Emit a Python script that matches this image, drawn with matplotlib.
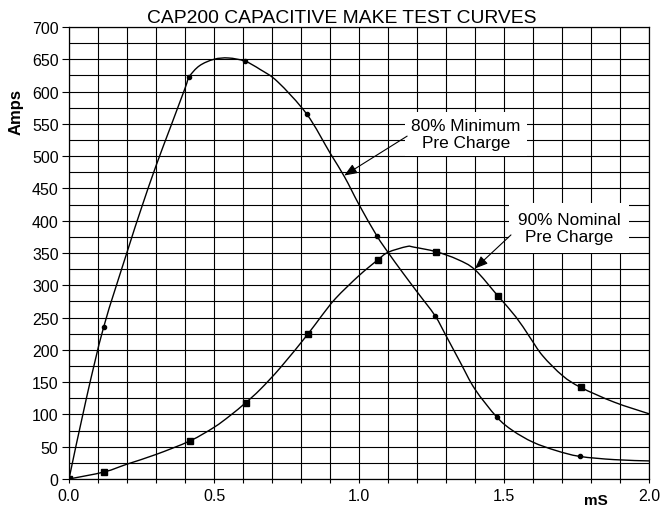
import numpy as np
import matplotlib
matplotlib.use("Agg")
import matplotlib.pyplot as plt
from matplotlib.path import Path
from matplotlib.patches import PathPatch

plt.rcParams['font.family'] = ['Liberation Sans', 'DejaVu Sans']

# 80% Minimum Pre Charge - line readings
x_min = [0, 0.06, 0.12, 0.2, 0.25, 0.3, 0.35, 0.4, 0.415, 0.45, 0.5,
         0.55, 0.607, 0.66, 0.72, 0.82, 0.9, 0.95, 1.0, 1.061, 1.1, 1.15, 1.2,
         1.262, 1.3, 1.35, 1.4, 1.475, 1.53, 1.6, 1.68, 1.761, 1.88, 2.0]
y_min = [0, 125, 236, 351, 420, 485, 545, 605, 623, 640, 650,
         652, 647, 634, 615, 565, 505, 468, 425, 377, 351, 320, 290,
         253, 222, 180, 139, 96, 75, 57, 44, 35, 30, 28]
# markers on 80% curve
mx_min = [0, 0.12, 0.415, 0.607, 0.82, 1.061, 1.262, 1.475, 1.761]
my_min = [0, 236, 623, 647, 565, 377, 253, 96, 35]

# 90% Nominal Pre Charge - line readings
x_nom = [0, 0.122, 0.2, 0.3, 0.417, 0.5, 0.555, 0.609, 0.66, 0.73,
         0.823, 0.87, 0.92, 1.0, 1.064, 1.1, 1.165, 1.19, 1.266, 1.34, 1.4, 1.478,
         1.541, 1.587, 1.633, 1.702, 1.764, 1.88, 2.0]
y_nom = [0, 11, 23, 38, 59, 80, 98, 118, 139, 173,
         224, 252, 280, 315, 339, 351, 360, 359, 352, 340, 324, 284,
         251, 221, 191, 160, 142, 119, 101]
mx_nom = [0, 0.122, 0.417, 0.609, 0.823, 1.064, 1.266, 1.478, 1.764]
my_nom = [0, 11, 59, 118, 224, 339, 352, 284, 142]

title = "CAP200 CAPACITIVE MAKE TEST CURVES"
label_min = "80% Minimum\nPre Charge"
label_nom = "90% Nominal\nPre Charge"


def smooth_path(xs, ys, tension=1 / 6):
    """Smoothed line (like a spreadsheet 'smoothed line') through the points."""
    p = np.column_stack([xs, ys]).astype(float)
    verts = [p[0]]
    codes = [Path.MOVETO]
    n = len(p)
    for i in range(n - 1):
        p0 = p[i - 1] if i > 0 else p[i]
        p1 = p[i]
        p2 = p[i + 1]
        p3 = p[i + 2] if i + 2 < n else p[i + 1]
        c1 = p1 + (p2 - p0) * tension
        c2 = p2 - (p3 - p1) * tension
        verts += [c1, c2, p2]
        codes += [Path.CURVE4] * 3
    return Path(verts, codes)


W, H = 672, 510
fig = plt.figure(figsize=(W / 100, H / 100), dpi=100)
ax = fig.add_axes([69 / W, 30 / H, 580 / W, 452 / H])

ax.set_xlim(0, 2.0)
ax.set_ylim(0, 700)
ax.set_xticks(np.arange(0, 2.01, 0.5))
ax.set_xticklabels(["0.0", "0.5", "1.0", "1.5", "2.0"])
ax.set_xticks(np.arange(0, 2.01, 0.1), minor=True)
ax.set_yticks(np.arange(0, 701, 50))
ax.set_yticks(np.arange(0, 701, 25), minor=True)
ax.grid(True, which='both', color='black', lw=0.8)
ax.set_axisbelow(True)
ax.tick_params(axis='y', which='major', length=5, width=0.8, pad=2.5, labelsize=11.5)
ax.tick_params(axis='y', which='minor', length=0)
ax.tick_params(axis='x', which='both', length=3, width=0.8, pad=3.5, labelsize=11.5)
for s in ax.spines.values():
    s.set_linewidth(0.9)

ax.add_patch(PathPatch(smooth_path(x_min, y_min), facecolor='none',
                       edgecolor='black', lw=1.0, zorder=3))
ax.plot(mx_min, my_min, 'o', color='black', ms=3, zorder=4)
ax.add_patch(PathPatch(smooth_path(x_nom, y_nom), facecolor='none',
                       edgecolor='black', lw=1.0, zorder=3))
ax.plot(mx_nom, my_nom, 's', color='black', ms=5, zorder=4)

box1 = dict(boxstyle='square,pad=0.35', facecolor='white', edgecolor='none')
box2 = dict(boxstyle='square,pad=0.5', facecolor='white', edgecolor='none')
ax.text(1.369, 534, label_min, ha='center', va='center', fontsize=12.4,
        bbox=box1, zorder=5, linespacing=1.2)
ax.text(1.724, 389, label_nom, ha='center', va='center', fontsize=12.4,
        bbox=box2, zorder=5, linespacing=1.2)

ap = dict(arrowstyle='-|>,head_length=0.55,head_width=0.22', mutation_scale=14,
          lw=0.8, color='black', shrinkA=0, shrinkB=0)
ax.annotate('', xy=(0.949, 470), xytext=(1.166, 531), arrowprops=ap, zorder=6)
ax.annotate('', xy=(1.4, 326), xytext=(1.524, 378), arrowprops=ap, zorder=6)

fig.text(341.5 / W, (H - 23) / H, title, ha='center', va='baseline', fontsize=13.9)
fig.text(16 / W, (H - 111.7) / H, "Amps", rotation=90, ha='center', va='center',
         fontsize=12, fontweight='bold')
fig.text(596 / W, (H - 494) / H, "mS", ha='center', va='top', fontsize=11,
         fontweight='bold')

fig.savefig("out.png", dpi=100)
